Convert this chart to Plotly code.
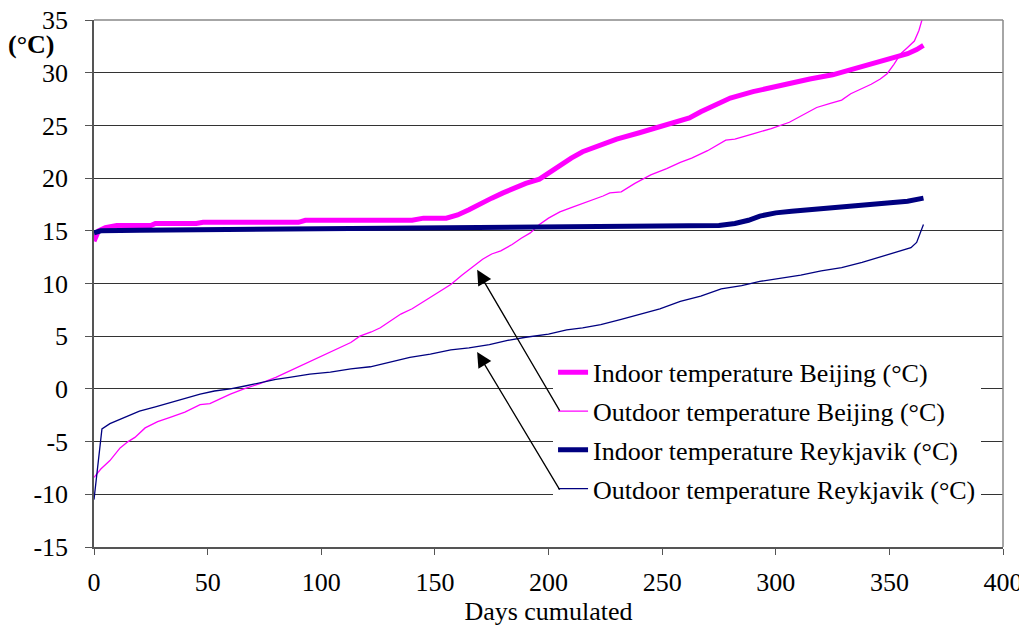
import plotly.graph_objects as go

# ---- data ----
days_in_bj = [0, 2, 5, 10, 25, 27, 45, 48, 90, 93, 140, 145, 155, 160, 165, 170, 175, 180, 185, 190,
              196, 200, 205, 210, 215, 223, 230, 240, 250, 262, 267, 280, 290, 298, 306, 315, 325, 333,
              342, 350, 358, 362, 365]
temp_in_bj = [14.0, 15.0, 15.3, 15.5, 15.5, 15.7, 15.7, 15.8, 15.8, 16.0, 16.0, 16.2, 16.2, 16.5, 17.0,
              17.6, 18.1, 18.6, 19.1, 19.5, 19.9, 20.5, 21.2, 21.9, 22.5, 23.2, 23.7, 24.3, 24.9, 25.7,
              26.3, 27.6, 28.2, 28.6, 28.9, 29.4, 29.8, 30.3, 30.8, 31.3, 31.8, 32.2, 32.6]

days_out_bj = [0, 3, 7, 11.5, 15, 18, 22.5, 28, 33.5, 40, 46.7, 51, 55, 60, 66, 73, 80, 86, 93, 100,
               107, 113, 117, 122, 126, 131, 135, 140, 145, 151, 157, 162, 166, 171, 175, 179, 184, 188,
               192, 196, 200, 205, 210, 218, 224, 227, 232, 238, 245, 252, 258, 263, 270, 278, 282, 290,
               298, 306, 312, 318, 324, 329, 333, 338, 342, 346, 349, 352, 355, 358, 361, 363, 365]
temp_out_bj = [-8.4, -7.6, -6.8, -5.6, -5.0, -4.6, -3.7, -3.1, -2.7, -2.2, -1.5, -1.4, -1.0, -0.5, 0.0,
               0.5, 1.1, 1.7, 2.4, 3.1, 3.8, 4.4, 5.0, 5.4, 5.8, 6.5, 7.1, 7.6, 8.3, 9.1, 9.9, 10.8,
               11.5, 12.3, 12.8, 13.1, 13.7, 14.3, 14.8, 15.6, 16.2, 16.8, 17.2, 17.8, 18.3, 18.6, 18.7,
               19.5, 20.3, 20.9, 21.5, 21.9, 22.6, 23.6, 23.7, 24.2, 24.7, 25.3, 26.0, 26.7, 27.1, 27.4,
               28.0, 28.5, 28.9, 29.4, 29.9, 30.8, 31.8, 32.4, 33.0, 34.0, 35.5]

days_in_rk = [0, 3, 20, 50, 100, 150, 200, 250, 265, 275, 282, 288, 293, 300, 307, 315, 329, 340, 351,
              358, 365]
temp_in_rk = [14.8, 15.0, 15.05, 15.1, 15.2, 15.25, 15.3, 15.35, 15.4, 15.5, 15.7, 16.0, 16.4, 16.7,
              16.85, 17.0, 17.2, 17.35, 17.6, 17.8, 18.1]

days_out_rk = [0, 3.5, 7, 11.5, 16, 20, 27, 33.5, 40, 46.7, 53, 60, 67, 73, 80, 86, 95, 104, 113, 121.6,
               130, 139, 148, 157, 165, 174, 182, 190, 200, 208, 215, 223, 232, 240.5, 249, 258, 267,
               276, 285, 293, 302, 311, 320, 329, 338, 346, 353, 359.5, 362, 365]
temp_out_rk = [-10.5, -3.8, -3.3, -2.9, -2.5, -2.1, -1.7, -1.3, -0.9, -0.5, -0.2, 0.0, 0.3, 0.6, 0.9,
               1.1, 1.4, 1.6, 1.9, 2.1, 2.5, 3.0, 3.3, 3.7, 3.9, 4.2, 4.6, 4.9, 5.2, 5.6, 5.8, 6.1, 6.6,
               7.1, 7.6, 8.3, 8.8, 9.5, 9.8, 10.2, 10.5, 10.8, 11.2, 11.5, 12.0, 12.5, 13.0, 13.4, 13.9,
               15.6]

x_ticks = [0, 50, 100, 150, 200, 250, 300, 350, 400]
y_ticks = [-15, -10, -5, 0, 5, 10, 15, 20, 25, 30, 35]

MAGENTA = "#FF00FF"
NAVY = "#000080"
FONT = "Times New Roman"
FS = 26
TICKFONT = dict(family=FONT, size=FS, color="black")

fig = go.Figure()
fig.add_trace(go.Scatter(x=days_in_bj, y=temp_in_bj, mode="lines", legendgroup="a",
                         name="Indoor temperature Beijing (°C)",
                         line=dict(color=MAGENTA, width=5)))
fig.add_trace(go.Scatter(x=days_out_bj, y=temp_out_bj, mode="lines", legendgroup="b",
                         name="Outdoor temperature Beijing (°C)",
                         line=dict(color=MAGENTA, width=1.3)))
fig.add_trace(go.Scatter(x=days_in_rk, y=temp_in_rk, mode="lines", legendgroup="c",
                         name="Indoor temperature Reykjavik (°C)",
                         line=dict(color=NAVY, width=5)))
fig.add_trace(go.Scatter(x=days_out_rk, y=temp_out_rk, mode="lines", legendgroup="d",
                         name="Outdoor temperature Reykjavik (°C)",
                         line=dict(color=NAVY, width=1.3)))

# arrows from legend entries to curves
fig.add_annotation(x=168.6, y=11.3, ax=205.3, ay=-2.2, xref="x", yref="y", axref="x", ayref="y",
                   text="", showarrow=True, arrowhead=2, arrowsize=2.3, arrowwidth=1.3,
                   arrowcolor="black")
fig.add_annotation(x=168.6, y=3.5, ax=205.3, ay=-9.7, xref="x", yref="y", axref="x", ayref="y",
                   text="", showarrow=True, arrowhead=2, arrowsize=2.3, arrowwidth=1.3,
                   arrowcolor="black")

# y-axis unit label
fig.add_annotation(x=-0.069, y=0.953, xref="paper", yref="paper", text="<b>(°C)</b>",
                   xanchor="center", yanchor="middle",
                   showarrow=False, font=dict(family=FONT, size=FS, color="black"))

# top/right frame
fig.add_shape(type="line", xref="paper", yref="paper", x0=0, x1=1, y0=1, y1=1,
              line=dict(color="#888888", width=1.5))
fig.add_shape(type="line", xref="paper", yref="paper", x0=1, x1=1, y0=0, y1=1,
              line=dict(color="#888888", width=1.5))

# page body has an 8px margin: figure is 1019x618 placed at (8, 8)
fig.update_layout(
    width=1019, height=618,
    margin=dict(l=86, r=24, t=12, b=79, autoexpand=False),
    paper_bgcolor="white", plot_bgcolor="white",
    font=dict(family=FONT, size=FS, color="black"),
    showlegend=True,
    legend=dict(x=0.505, y=0.376, xanchor="left", yanchor="top",
                bgcolor="white", borderwidth=0,
                font=dict(family=FONT, size=FS, color="black"),
                tracegroupgap=2, itemwidth=30),
    xaxis=dict(range=[0, 400], tickvals=x_ticks, ticktext=[str(v) for v in x_ticks],
               automargin=False, tickfont=TICKFONT, ticklabeloverflow="allow",
               showgrid=False, zeroline=False, showline=True, linecolor="#555555", linewidth=1.5,
               ticks="outside", ticklen=6, tickcolor="#555555",
               ticklabelstandoff=5,
               title=dict(text="Days cumulated", standoff=0,
                          font=dict(family=FONT, size=FS))),
    yaxis=dict(range=[-15, 35], tickvals=y_ticks, ticktext=[str(v) for v in y_ticks],
               automargin=False, tickfont=TICKFONT, ticklabeloverflow="allow",
               showgrid=True, gridcolor="#333333", gridwidth=1, zeroline=False,
               showline=True, linecolor="#555555", linewidth=1.5,
               ticks="outside", ticklen=7, tickcolor="#555555",
               ticklabelstandoff=12),
)

fig.write_html("out.html")
